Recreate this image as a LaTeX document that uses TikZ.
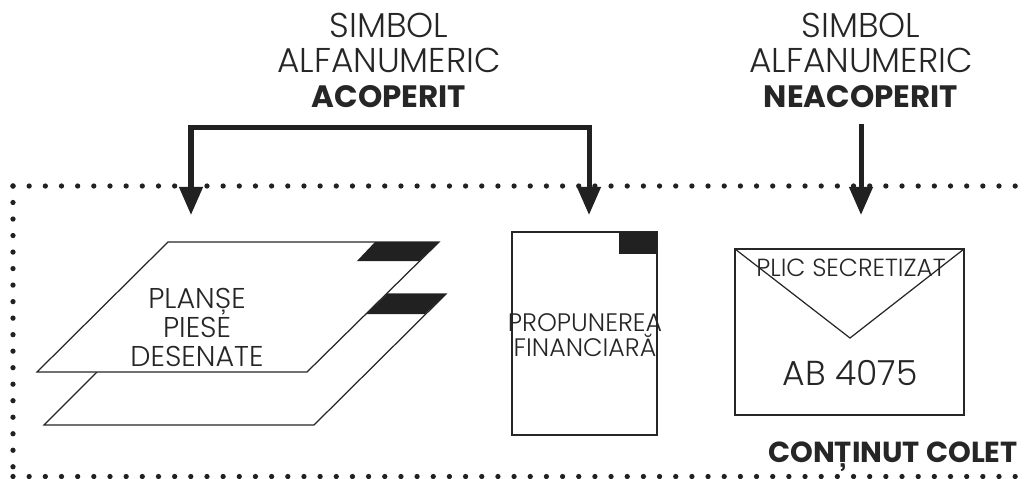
\documentclass[tikz,border=0pt]{standalone}
\usepackage{fontspec}
\setmainfont{Poppins Light}[BoldFont={Poppins Bold}]
\usetikzlibrary{arrows.meta}
\tikzset{
	sheet/.style={draw=black!85,fill=white,line width=0.7pt},
	tab/.style={draw=none,fill=black!87},
	label/.style={inner sep=0pt,align=center,text=black!85},
	chenar/.style={black!87,line width=3pt,line cap=round,dash pattern=on 0pt off 9.2pt},
	wire/.style={draw=black!87,line width=2.85pt,>={Triangle[length=16pt,width=13pt]}}
}
\begin{document}
\begin{tikzpicture}[x=0.02cm,y=-0.02cm]
	\useasboundingbox (0,0) rectangle (1024,478);
	% chenar
	\draw[chenar] (13,186) -- (1024,186);
	\draw[chenar,dash pattern=on 0pt off 9.4pt] (13,186) -- (13,476.5);
	\draw[chenar] (13,476.5) -- (1024,476.5);

	% planse
	\draw[sheet] (175,294) -- (446,294) -- (314,425) -- (44,425) -- cycle;
	\fill[tab] (387,294) -- (446,294) -- (425,314) -- (366,314) -- cycle;
	\draw[sheet] (168,242) -- (439,242) -- (307,372) -- (37,372) -- cycle;
	\fill[tab] (375,242) -- (439,242) -- (419,261) -- (357,261) -- cycle;
	\node[label,font=\fontsize{16.3}{16.5}\selectfont] (planse) at (197,327) {PLANȘE\\PIESE\\DESENATE};

	% propunere
	\draw[sheet] (512,232) rectangle (657,435);
	\fill[tab] (619,232) rectangle (657,254);
	\node[label,font=\fontsize{14.4}{14.2}\selectfont] (propunere) at (585,335) {PROPUNEREA\\FINANCIARĂ};

	% plic
	\draw[sheet] (735,249) rectangle (964,415);
	\draw[sheet,fill=none] (735,249) -- (850,338) -- (964,249);
	\node[label,font=\fontsize{14.1}{16}\selectfont] (plic) at (851,268) {PLIC SECRETIZAT};
	\node[label,font=\fontsize{19.7}{20}\selectfont] (cod) at (850,373) {AB 4075};

	\node[label,font=\fontsize{16.5}{16}\bfseries,anchor=east] (continut) at (1018,457) {CONȚINUT COLET};

	% simboluri
	\node[label,font=\fontsize{19.6}{19.9}\selectfont] (acoperit) at (389,60) {SIMBOL\\ALFANUMERIC\\{\fontsize{17.6}{19.9}\selectfont\textbf{ACOPERIT}}};
	\node[label,font=\fontsize{19.6}{19.9}\selectfont] (neacoperit) at (861,60) {SIMBOL\\ALFANUMERIC\\{\fontsize{17.6}{19.9}\selectfont\textbf{NEACOPERIT}}};

	\coordinate (colt1) at (191,127);
	\coordinate (colt2) at (589,127);
	\coordinate (tinta1) at (191,215);
	\coordinate (tinta2) at (589,215);
	\coordinate (tinta3) at (861,215);
	\draw[wire,->] (neacoperit.south) ++(0,16) -- (tinta3);
	\draw[wire,<->] (tinta1) -- (colt1) -- (colt2) -- (tinta2);
\end{tikzpicture}
\end{document}
